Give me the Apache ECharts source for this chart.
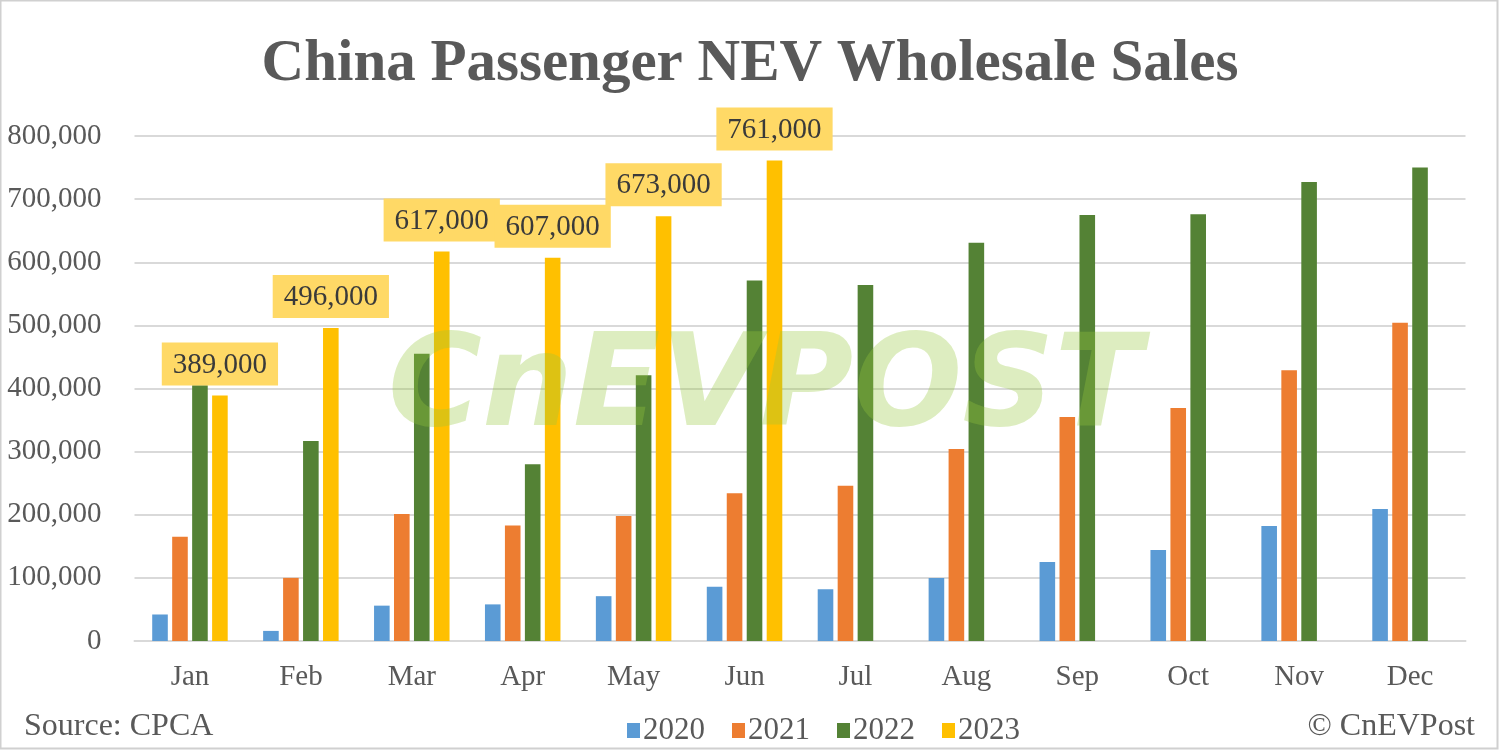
<!DOCTYPE html>
<html><head><meta charset="utf-8">
<script src="https://cdn.jsdelivr.net/npm/echarts@6/dist/echarts.min.js"></script>
<style>html,body{margin:0;padding:0;background:#fff}#c{width:1500px;height:751px}</style>
</head><body><div id="c"></div>
<script>
const months = ['Jan','Feb','Mar','Apr','May','Jun','Jul','Aug','Sep','Oct','Nov','Dec'];
const s2020 = [42000,16000,56000,58000,71000,86000,82000,100000,125000,144000,182000,209000];
const s2021 = [165000,100000,201000,183000,198000,234000,246000,304000,355000,369000,429000,504000];
const s2022 = [405000,317000,455000,280000,421000,571000,564000,631000,675000,676000,727000,750000];
const s2023 = [389000,496000,617000,607000,673000,761000,null,null,null,null,null,null];
const yTicks = [0,100000,200000,300000,400000,500000,600000,700000,800000];

const serif = '"Liberation Serif","Times New Roman",serif';
const fmt = v => Number(v).toLocaleString('en-US');
const chart = echarts.init(document.getElementById('c'));
const bar = (name, data, color, extra) => Object.assign({
  name, type:'bar', data, barWidth:15.6, barGap:'28%',
  itemStyle:{color}, emphasis:{disabled:true}
}, extra||{});
chart.setOption({
  animation:false,
  title:{text:'China Passenger NEV Wholesale Sales', left:'center', top:30,
    textStyle:{fontFamily:serif, fontSize:59, fontWeight:'bold', color:'#595959'}},
  grid:{left:134.5, right:34.5, top:136, bottom:110, containLabel:false},
  legend:{left:622, top:710, itemWidth:13, itemHeight:15, itemGap:27,
    icon:'rect',
    textStyle:{fontFamily:serif, fontSize:31, color:'#595959', padding:[0,0,0,-2]},
    data:['2020','2021','2022','2023']},
  xAxis:{type:'category', data:months,
    axisLine:{lineStyle:{color:'#d9d9d9', width:2}}, axisTick:{show:false},
    axisLabel:{fontFamily:serif, fontSize:29, color:'#595959', margin:22}},
  yAxis:{type:'value', min:yTicks[0], max:yTicks[yTicks.length-1], interval:yTicks[1]-yTicks[0],
    axisLine:{show:false}, axisTick:{show:false},
    splitLine:{lineStyle:{color:'#d9d9d9', width:2}},
    axisLabel:{fontFamily:serif, fontSize:29, color:'#595959', margin:33, formatter:v=>fmt(v)}},
  series:[
    bar('2020', s2020, '#5B9BD5'),
    bar('2021', s2021, '#ED7D31'),
    bar('2022', s2022, '#548235'),
    bar('2023', s2023, '#FFC000', {label:{show:true, position:'top', distance:10,
      formatter:p=>p.value==null?'':fmt(p.value),
      fontFamily:serif, fontSize:29, color:'#3a3a3a',
      backgroundColor:'#FFD966', padding:[8,11,6,11]}})
  ],
  graphic:[
    {type:'rect', shape:{x:0.5,y:0.5,width:1497,height:748}, style:{fill:null, stroke:'#d0d0d0', lineWidth:2}, z:0, silent:true},
    {type:'text', left:388, top:328, z:100, silent:true,
      style:{text:'CnEVPOST', font:'italic bold 128px "DejaVu Sans", sans-serif', fill:'rgba(150,200,60,0.32)'}},
    {type:'text', left:24, top:711, style:{text:'Source: CPCA', font:'32px '+serif, fill:'#595959'}},
    {type:'text', right:25, top:711, style:{text:'\u00A9 CnEVPost', font:'32px '+serif, fill:'#595959'}}
  ]
});
</script></body></html>
